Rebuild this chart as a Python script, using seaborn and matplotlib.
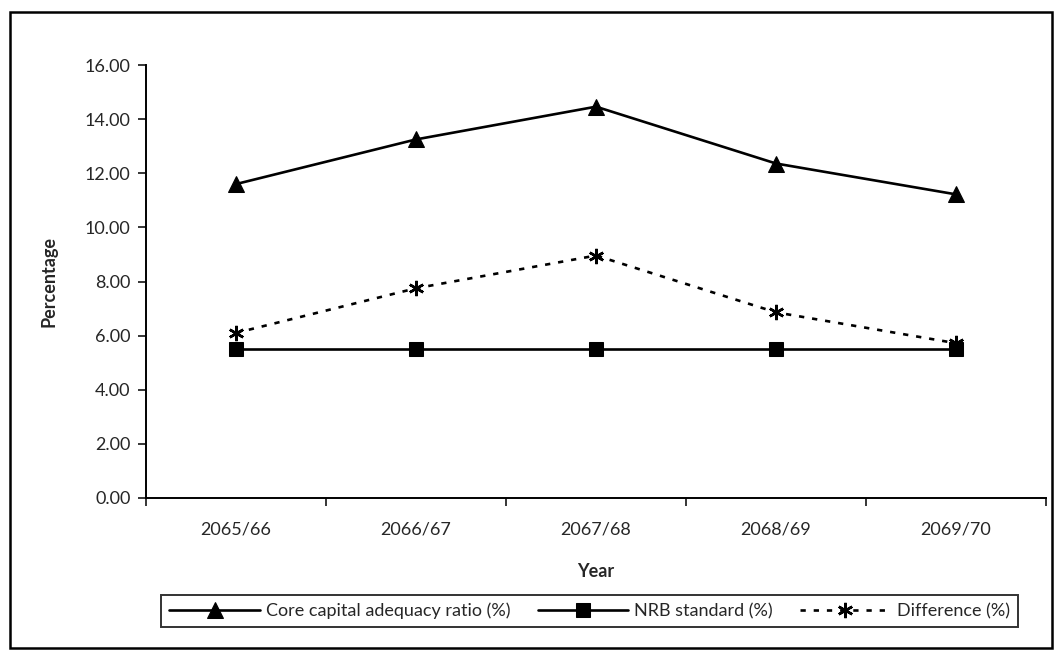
import matplotlib
matplotlib.use("Agg")
import matplotlib.pyplot as plt
import seaborn as sns
import pandas as pd
from matplotlib.patches import Rectangle

years = ["2065/66", "2066/67", "2067/68", "2068/69", "2069/70"]
core_ratio = [11.60, 13.25, 14.46, 12.36, 11.22]
nrb_standard = [5.50, 5.50, 5.50, 5.50, 5.50]
difference = [6.10, 7.75, 8.96, 6.86, 5.72]
series_names = ["Core capital adequacy ratio (%)", "NRB standard (%)", "Difference (%)"]

sns.set_style("white")
plt.rcParams['font.family'] = ['Lato', 'DejaVu Sans']
FS = 13

fig = plt.figure(figsize=(10.64, 6.59), dpi=100)
ax = fig.add_axes([146/1064, 1 - 498/659, 900/1064, 433/659])

pos = list(range(len(years)))
df = pd.DataFrame({"pos": pos, "core": core_ratio, "nrb": nrb_standard, "diff": difference})

sns.lineplot(data=df, x="pos", y="core", ax=ax, color="black", lw=1.9,
             marker="^", markersize=11, markeredgecolor="black", label=series_names[0])
sns.lineplot(data=df, x="pos", y="nrb", ax=ax, color="black", lw=1.9,
             marker="s", markersize=10, markeredgecolor="black", label=series_names[1])
sns.lineplot(data=df, x="pos", y="diff", ax=ax, color="black", lw=1.9,
             marker=(6, 2, 0), markersize=11, markeredgewidth=1.8, markeredgecolor="black",
             linestyle=(0, (2, 3)), label=series_names[2])

ax.set_xlim(-0.5, len(years) - 0.5)
ax.set_ylim(0, 16)
ax.set_yticks([0, 2, 4, 6, 8, 10, 12, 14, 16])
ax.set_yticklabels([f"{v:.2f}" for v in [0, 2, 4, 6, 8, 10, 12, 14, 16]], fontsize=FS)
ax.set_xticks(pos)
ax.set_xticklabels(years, fontsize=FS)
ax.set_xticks([p - 0.5 for p in pos] + [len(years) - 0.5], minor=True)
ax.tick_params(axis="x", which="major", length=0, pad=17)
ax.tick_params(axis="x", which="minor", length=6, width=1.3, direction="out", bottom=True)
ax.tick_params(axis="y", length=6, width=1.3, direction="out", left=True, pad=5)

for s in ["top", "right"]:
    ax.spines[s].set_visible(False)
for s in ["left", "bottom"]:
    ax.spines[s].set_color("black")
    ax.spines[s].set_linewidth(1.4)

ax.set_xlabel("Year", fontsize=FS, fontweight="bold", labelpad=18)
ax.set_ylabel("Percentage", fontsize=FS, fontweight="bold", labelpad=20)

leg = ax.legend(loc="center", bbox_to_anchor=(589.5/1064, 1 - 611/659), bbox_transform=fig.transFigure,
                ncol=3, frameon=True, fancybox=False, edgecolor="black", fontsize=FS,
                handlelength=5.0, columnspacing=1.5, handletextpad=0.35, borderpad=0.45)
leg.get_frame().set_linewidth(1.4)

fig.patches.append(Rectangle((10/1064, 1 - 648/659), 1042/1064, 636/659,
                             transform=fig.transFigure, fill=False, edgecolor="black", lw=1.8))

fig.savefig("out.png", dpi=100)
